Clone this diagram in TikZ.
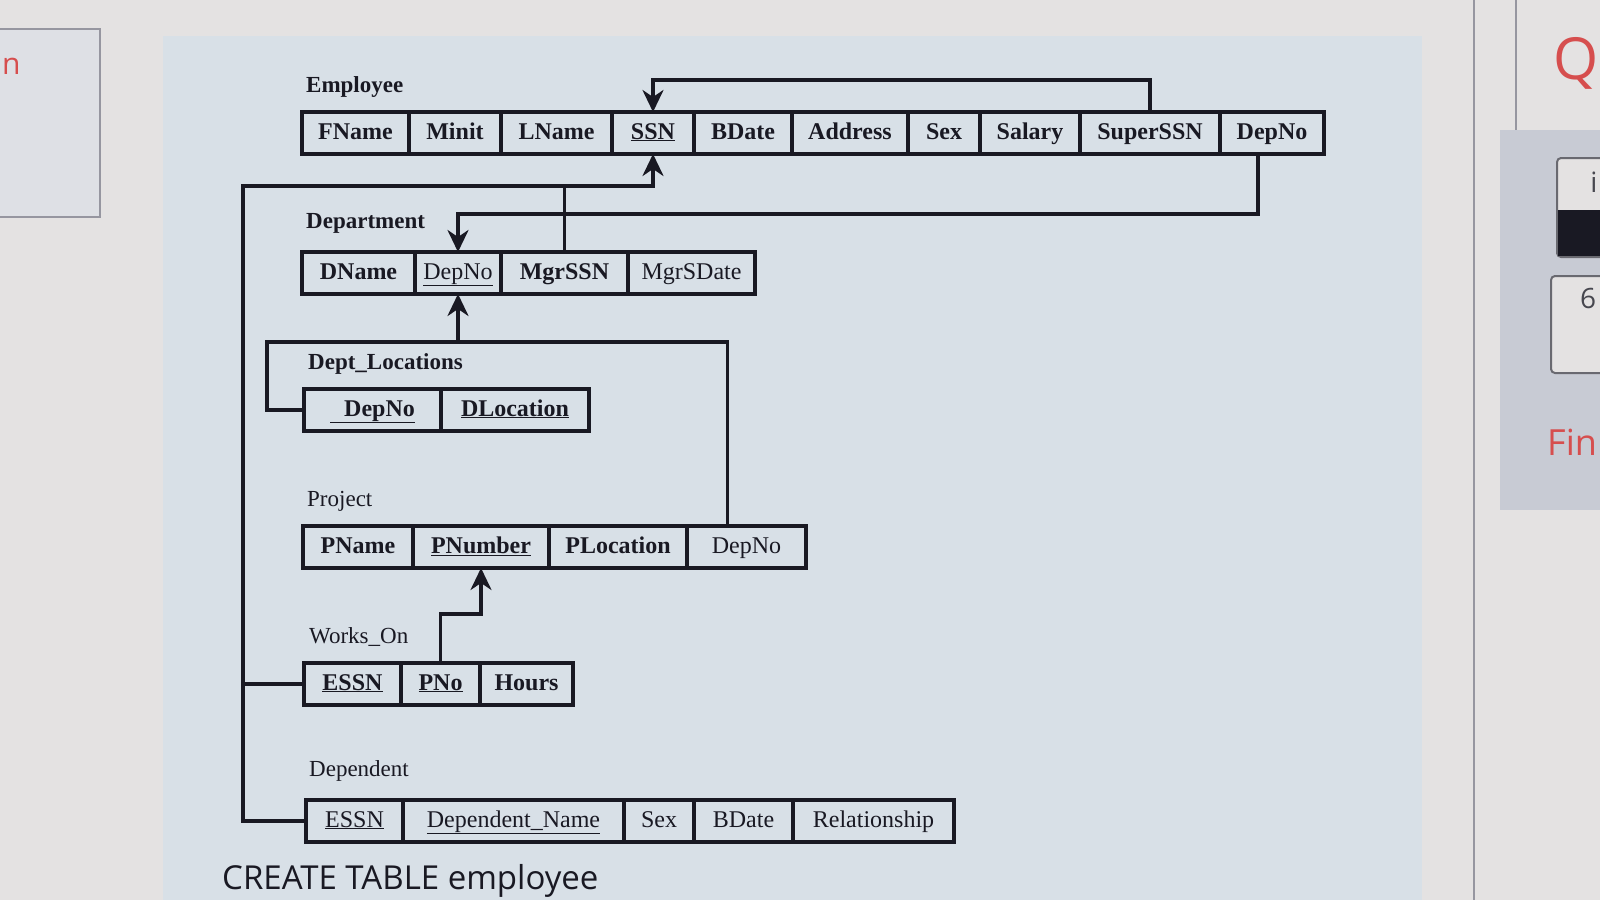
\documentclass[tikz,border=0pt]{standalone}
\usepackage{fontspec}
\setmainfont{Liberation Serif}
\newfontfamily\uifont{Open Sans}
\usetikzlibrary{arrows.meta,positioning,calc}
\definecolor{ink}{RGB}{25,25,35}
\definecolor{screen}{RGB}{228,226,226}
\definecolor{pane}{RGB}{216,224,231}
\definecolor{side}{RGB}{200,203,212}
\definecolor{uired}{RGB}{214,78,78}
\definecolor{rulegray}{RGB}{150,150,160}
\tikzset{
  cell/.style={draw=ink,line width=3.5pt,minimum height=42pt,inner sep=0pt,outer sep=0pt,
    text height=17pt,text depth=5pt,font=\fontsize{24}{28}\selectfont\bfseries,text=ink},
  cellr/.style={cell,font=\fontsize{24}{28}\selectfont},
  tname/.style={anchor=west,inner sep=0pt,font=\fontsize{23}{27}\selectfont,text=ink},
  link/.style={draw=ink,line width=3.3pt},
  fk/.style={link,-{Stealth[length=22pt,width=21pt,inset=7pt]}},
  uibox/.style={draw=rulegray!70!black,line width=2pt,rounded corners=4pt},
}

\begin{document}
\begin{tikzpicture}[x=1pt,y=-1pt]
  \useasboundingbox (0,0) rectangle (1600,900);
  \clip (0,0) rectangle (1600,900);
  % screen around the diagram
  \fill[screen] (0,0) rectangle (1600,900);
  \filldraw[fill=side!60!white,draw=rulegray,line width=2pt] (-5,29) rectangle (100,217);
  \node[anchor=west,inner sep=0pt,text=uired,font=\uifont\fontsize{30}{34}\selectfont] (tabn) at (2,66) {n};
  \fill[pane] (163,36) rectangle (1422,900);
  \draw[rulegray,line width=2pt] (1474,0) -- (1474,900);
  \draw[rulegray,line width=2pt] (1516,0) -- (1516,130);
  \fill[side] (1500,130) rectangle (1600,510);
  \node[anchor=west,inner sep=0pt,text=uired,font=\uifont\fontsize{58}{60}\selectfont] (qhead) at (1553,63) {Q};
  \filldraw[fill=screen,uibox] (1557,158) rectangle (1620,257);
  \fill[ink] (1558,210) rectangle (1620,256);
  \node[inner sep=0pt,text=ink!80,font=\uifont\fontsize{28}{30}\selectfont] (btni) at (1594,182) {i};
  \filldraw[fill=screen,uibox] (1551,276) rectangle (1620,373);
  \node[inner sep=0pt,text=ink!80,font=\uifont\fontsize{28}{30}\selectfont] (btn6) at (1588,298) {6};
  \node[anchor=west,inner sep=0pt,text=uired,font=\uifont\fontsize{36}{40}\selectfont] (fin) at (1547,442) {Fin};
  \node[anchor=base west,inner sep=0pt,text=ink,font=\uifont\fontsize{33}{36}\selectfont] (create) at (222,889) {CREATE TABLE employee};

  % Employee
  \node[tname,font=\fontsize{23}{27}\selectfont\bfseries] (lemp) at (306,87) {Employee};
  \node[cell,minimum width=107pt,anchor=north west] (fname) at (302,112) {FName};
  \node[cell,minimum width=92pt,right=0pt of fname] (minit) {Minit};
  \node[cell,minimum width=111pt,right=0pt of minit] (lname) {LName};
  \node[cell,minimum width=82pt,right=0pt of lname] (ssn) {\underline{SSN}};
  \node[cell,minimum width=98pt,right=0pt of ssn] (bdate) {BDate};
  \node[cell,minimum width=116pt,right=0pt of bdate] (address) {Address};
  \node[cell,minimum width=72pt,right=0pt of address] (esex) {Sex};
  \node[cell,minimum width=100pt,right=0pt of esex] (salary) {Salary};
  \node[cell,minimum width=140pt,right=0pt of salary] (superssn) {SuperSSN};
  \node[cell,minimum width=104pt,right=0pt of superssn] (edepno) {DepNo};

  % Department
  \node[tname,font=\fontsize{23}{27}\selectfont\bfseries] (ldept) at (306,223) {Department};
  \node[cell,minimum width=113pt,anchor=north west] (dname) at (302,252) {DName};
  \node[cellr,minimum width=86pt,right=0pt of dname] (ddepno) {\underline{DepNo}};
  \node[cell,minimum width=127pt,right=0pt of ddepno] (mgrssn) {MgrSSN};
  \node[cellr,minimum width=127pt,right=0pt of mgrssn] (mgrsdate) {MgrSDate};

  % Dept_Locations
  \node[tname,font=\fontsize{23}{27}\selectfont\bfseries] (lloc) at (308,364) {Dept\_Locations};
  \node[cell,minimum width=137pt,anchor=north west] (ldepno) at (304,389) {\underline{\hspace{14pt}DepNo}};
  \node[cell,minimum width=148pt,right=0pt of ldepno] (dlocation) {\underline{DLocation}};

  % Project
  \node[tname] (lproj) at (307,501) {Project};
  \node[cell,minimum width=110pt,anchor=north west] (pname) at (303,526) {PName};
  \node[cell,minimum width=136pt,right=0pt of pname] (pnumber) {\underline{PNumber}};
  \node[cell,minimum width=138pt,right=0pt of pnumber] (plocation) {PLocation};
  \node[cellr,minimum width=119pt,right=0pt of plocation] (pdepno) {DepNo};

  % Works_On
  \node[tname] (lworks) at (309,637) {Works\_On};
  \node[cell,minimum width=97pt,anchor=north west] (wessn) at (304,663) {\underline{ESSN}};
  \node[cell,minimum width=79pt,right=0pt of wessn] (pno) {\underline{PNo}};
  \node[cell,minimum width=93pt,right=0pt of pno] (hours) {Hours};

  % Dependent
  \node[tname] (ldep) at (309,771) {Dependent};
  \node[cellr,minimum width=97pt,anchor=north west] (dessn) at (306,800) {\underline{ESSN}};
  \node[cellr,minimum width=221pt,right=0pt of dessn] (depname) {\underline{Dependent\_Name}};
  \node[cellr,minimum width=70pt,right=0pt of depname] (dsex) {Sex};
  \node[cellr,minimum width=99pt,right=0pt of dsex] (dbdate) {BDate};
  \node[cellr,minimum width=161pt,right=0pt of dbdate] (relation) {Relationship};

  % foreign keys
  \coordinate (busTop) at (243,186);
  \coordinate (locTop) at (267,342);
  \draw[fk] (superssn.north) -- ++(0,-32) -| (ssn.north);
  \draw[fk] (dessn.west) -| (busTop) -| (ssn.south);
  \draw[link] (wessn.west) -- (wessn.west -| busTop);
  \draw[link] (mgrssn.north) -- (mgrssn.north |- busTop);
  \draw[fk] ([xshift=-14pt]edepno.south) -- ++(0,60) -| (ddepno.north);
  \draw[link] (ldepno.west) -| (locTop) -| ([xshift=-19pt]pdepno.north);
  \draw[fk] (ddepno.south |- locTop) -- (ddepno.south);
  \draw[fk] (pno.north) -- ++(0,-49) -| (pnumber.south);
\end{tikzpicture}
\end{document}
